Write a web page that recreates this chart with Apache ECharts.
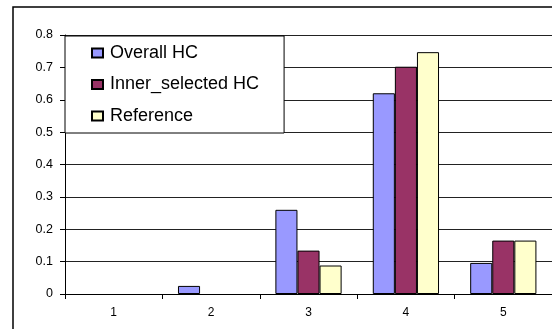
<!DOCTYPE html>
<html>
<head>
<meta charset="utf-8">
<script src="https://cdn.jsdelivr.net/npm/echarts@6/dist/echarts.min.js"></script>
<style>
html,body{margin:0;padding:0;background:#fff;}
#chart{width:552px;height:329px;}
</style>
</head>
<body>
<div id="chart"></div>
<script>
const categories = ['1', '2', '3', '4', '5'];
const seriesNames = ['Overall HC', 'Inner_selected HC', 'Reference'];
const overallHC = [0, 0.025, 0.26, 0.62, 0.096];
const innerSelectedHC = [0, 0, 0.134, 0.702, 0.165];
const reference = [0, 0, 0.088, 0.747, 0.165];
const seriesColors = ['#9999FF', '#993366', '#FFFFCC'];
const yTicks = { min: 0, max: 0.8, interval: 0.1 };

const font = 'Liberation Sans, Arial, sans-serif';
const chart = echarts.init(document.getElementById('chart'), null, { renderer: 'canvas' });
const values = [overallHC, innerSelectedHC, reference];

chart.setOption({
  animation: false,
  backgroundColor: '#fff',
  graphic: [{
    type: 'rect',
    z: -10,
    shape: { x: 13, y: 7, width: 700, height: 500 },
    style: { fill: 'none', stroke: '#000', lineWidth: 1.5 }
  }],
  grid: { left: 65, top: 35, width: 493, bottom: 35, containLabel: false },
  legend: {
    orient: 'vertical',
    left: 65,
    top: 36,
    padding: [8, 25, 8, 26],
    itemGap: 13.5,
    itemWidth: 11,
    itemHeight: 9,
    icon: 'rect',
    backgroundColor: '#fff',
    borderColor: '#000',
    borderWidth: 1,
    z: 10,
    textStyle: { fontFamily: font, fontSize: 18, color: '#000', lineHeight: 18, padding: [0, 0, 0, 2] },
    data: seriesNames
  },
  xAxis: {
    type: 'category',
    data: categories,
    axisLine: { lineStyle: { color: '#000', width: 1 } },
    axisTick: { show: true, length: 5, lineStyle: { color: '#000' } },
    axisLabel: { fontFamily: font, fontSize: 12, color: '#000', margin: 13 }
  },
  yAxis: {
    type: 'value',
    min: yTicks.min,
    max: yTicks.max,
    interval: yTicks.interval,
    axisLine: { show: true, lineStyle: { color: '#000', width: 1 } },
    axisTick: { show: true, length: 5, lineStyle: { color: '#000' } },
    axisLabel: { fontFamily: font, fontSize: 12.5, color: '#000', margin: 12, formatter: v => String(Math.round(v * 10) / 10) },
    splitLine: { show: true, lineStyle: { color: '#222', width: 1 } }
  },
  series: seriesNames.map((name, i) => ({
    name: name,
    type: 'bar',
    data: values[i].map(v => v === 0 ? { value: v, itemStyle: { borderWidth: 0, opacity: 0 } } : v),
    barGap: '0%',
    barCategoryGap: '32%',
    itemStyle: { color: seriesColors[i], borderColor: '#000', borderWidth: 1 }
  }))
});
</script>
</body>
</html>
